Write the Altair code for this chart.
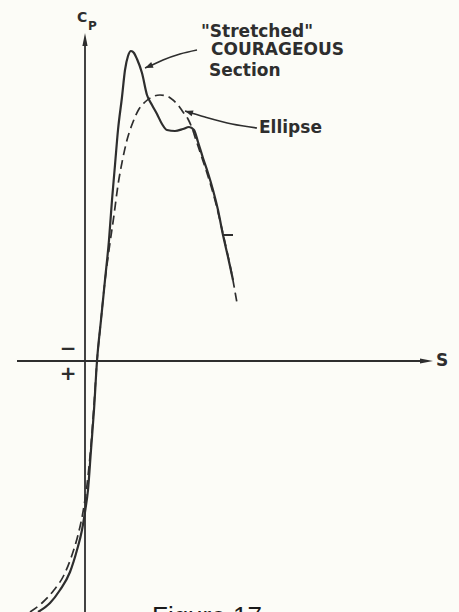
import altair as alt
import pandas as pd

INK = "#2e2e2e"
BG = "#fcfcf7"

# Pressure distribution along the surface: s = surface distance, cp = pressure coefficient
courageous_s = [-0.47, -0.35, -0.25, -0.15, -0.08, -0.03, 0.00, 0.03, 0.06, 0.09, 0.12,
                0.16, 0.20, 0.24, 0.27, 0.30, 0.33, 0.37, 0.40, 0.43, 0.46, 0.49, 0.52,
                0.57, 0.62, 0.67, 0.72, 0.77, 0.82, 0.90, 0.98, 1.04, 1.09, 1.13, 1.18,
                1.23, 1.28, 1.33, 1.38, 1.43, 1.48]
courageous_cp = [1.004, 0.968, 0.916, 0.844, 0.756, 0.676, 0.604, 0.516, 0.356, 0.196, 0.000,
                 -0.164, -0.324, -0.484, -0.644, -0.784, -0.924, -1.056, -1.164, -1.220, -1.240,
                 -1.232, -1.208, -1.152, -1.064, -1.024, -0.988, -0.948, -0.924, -0.920, -0.928,
                 -0.936, -0.924, -0.876, -0.812, -0.752, -0.684, -0.604, -0.504, -0.416, -0.324]

ellipse_s = [-0.55, -0.43, -0.31, -0.21, -0.13, -0.07, -0.02, 0.02, 0.06, 0.09, 0.12, 0.155,
             0.195, 0.24, 0.29, 0.33, 0.375, 0.42, 0.48, 0.54, 0.60, 0.67, 0.75, 0.82, 0.88,
             0.93, 0.98, 1.03, 1.07, 1.11, 1.16, 1.21, 1.26, 1.31, 1.36, 1.41, 1.46, 1.52]
ellipse_cp = [1.004, 0.968, 0.916, 0.856, 0.776, 0.696, 0.604, 0.496, 0.336, 0.176, 0.000,
              -0.144, -0.304, -0.444, -0.584, -0.704, -0.804, -0.884, -0.956, -1.008, -1.036,
              -1.056, -1.064, -1.060, -1.044, -1.024, -0.996, -0.968, -0.932, -0.884, -0.824,
              -0.764, -0.700, -0.628, -0.544, -0.456, -0.364, -0.232]

# Leader lines from the labels to the curves
leader_courageous_s = [1.12, 0.95, 0.78, 0.65, 0.60]
leader_courageous_cp = [-1.244, -1.228, -1.204, -1.180, -1.172]
leader_ellipse_s = [1.72, 1.47, 1.20, 1.00]
leader_ellipse_cp = [-0.932, -0.948, -0.976, -1.000]

# Axes: vertical Cp axis and horizontal s axis
axis_s = [0.00, -0.68]
axis_s2 = [0.00, 3.40]
axis_cp = [1.004, 0.0]
axis_cp2 = [-1.284, 0.0]

# Arrowheads: tip position and direction (degrees, clockwise from +s)
arrow_axis_s = [0.00, 3.48]
arrow_axis_cp = [-1.312, 0.0]
arrow_axis_ang = [270, 0]
arrow_lead_s = [0.60, 1.00]
arrow_lead_cp = [-1.172, -1.000]
arrow_lead_ang = [157, 198]

# Small tick on the solid curve
tick_s, tick_s2, tick_cp = [1.38], [1.48], [-0.504]

label_text = ['"Stretched"', "COURAGEOUS", "Section", "Ellipse", "S"]
label_s = [1.16, 1.26, 1.24, 1.74, 3.51]
label_cp = [-1.296, -1.224, -1.140, -0.912, 0.020]

sign_text = ["\u2212", "+"]
sign_s = [-0.17, -0.17]
sign_cp = [-0.048, 0.052]

X = alt.X("s:Q", scale=alt.Scale(domain=[-0.85, 3.74], nice=False, zero=False), axis=None)
Y = alt.Y("cp:Q", scale=alt.Scale(domain=[-1.444, 1.004], reverse=True, nice=False, zero=False),
          axis=None)


def curve(s, cp):
    return pd.DataFrame({"s": s, "cp": cp, "i": range(len(s))})


ARROW = "M0,0L-2,-0.4L-2,0.4Z"
ARROW_WIDE = "M0,0L-2,-0.75L-2,0.75Z"

axes = alt.Chart(pd.DataFrame({"s": axis_s, "s2": axis_s2, "cp": axis_cp, "cp2": axis_cp2})).mark_rule(
    color=INK, strokeWidth=1.8
).encode(x=X, y=Y, x2="s2:Q", y2="cp2:Q")

axis_arrows = alt.Chart(pd.DataFrame({"s": arrow_axis_s, "cp": arrow_axis_cp, "ang": arrow_axis_ang})).mark_point(
    shape=ARROW, filled=True, color=INK, opacity=1, size=169, strokeWidth=0
).encode(x=X, y=Y, angle=alt.Angle("ang:Q", scale=None))

solid = alt.Chart(curve(courageous_s, courageous_cp)).mark_line(
    color=INK, strokeWidth=2.2, interpolate="monotone"
).encode(x=X, y=Y, order="i:Q")

dashed = alt.Chart(curve(ellipse_s, ellipse_cp)).mark_line(
    color=INK, strokeWidth=1.7, strokeDash=[9, 5], interpolate="monotone"
).encode(x=X, y=Y, order="i:Q")

lead1 = alt.Chart(curve(leader_courageous_s, leader_courageous_cp)).mark_line(
    color=INK, strokeWidth=1.6, interpolate="monotone"
).encode(x=X, y=Y, order="i:Q")

lead2 = alt.Chart(curve(leader_ellipse_s, leader_ellipse_cp)).mark_line(
    color=INK, strokeWidth=1.6, interpolate="monotone"
).encode(x=X, y=Y, order="i:Q")

lead_arrows = alt.Chart(pd.DataFrame({"s": arrow_lead_s, "cp": arrow_lead_cp, "ang": arrow_lead_ang})).mark_point(
    shape=ARROW_WIDE, filled=True, color=INK, opacity=1, size=64, strokeWidth=0
).encode(x=X, y=Y, angle=alt.Angle("ang:Q", scale=None))

tick = alt.Chart(pd.DataFrame({"s": tick_s, "s2": tick_s2, "cp": tick_cp})).mark_rule(
    color=INK, strokeWidth=2
).encode(x=X, y=Y, x2="s2:Q")

labels = alt.Chart(pd.DataFrame({"s": label_s, "cp": label_cp, "t": label_text})).mark_text(
    align="left", baseline="alphabetic", font="DejaVu Sans", fontWeight="bold", fontSize=17, color=INK
).encode(x=X, y=Y, text="t:N")

signs = alt.Chart(pd.DataFrame({"s": sign_s, "cp": sign_cp, "t": sign_text})).mark_text(
    align="center", baseline="middle", font="DejaVu Sans", fontWeight="bold", fontSize=20, color=INK
).encode(x=X, y=Y, text="t:N")

cp_main = alt.Chart(pd.DataFrame({"s": [-0.08], "cp": [-1.356], "t": ["C"]})).mark_text(
    align="left", baseline="alphabetic", font="DejaVu Sans", fontWeight="bold", fontSize=14, color=INK
).encode(x=X, y=Y, text="t:N")

cp_sub = alt.Chart(pd.DataFrame({"s": [0.03], "cp": [-1.324], "t": ["P"]})).mark_text(
    align="left", baseline="alphabetic", font="DejaVu Sans", fontWeight="bold", fontSize=12, color=INK
).encode(x=X, y=Y, text="t:N")

caption = alt.Chart(pd.DataFrame({"s": [0.67], "cp": [1.056], "t": ["Figure 17"]})).mark_text(
    align="left", baseline="alphabetic", font="Liberation Sans", fontSize=26, color="#1a1a1a"
).encode(x=X, y=Y, text="t:N")

chart = alt.layer(
    axes, axis_arrows, dashed, solid, lead1, lead2, lead_arrows, tick,
    labels, signs, cp_main, cp_sub, caption
).properties(
    width=459, height=612, autosize=alt.AutoSizeParams(type="none"), padding=0, background=BG
).configure_view(stroke=None)

chart.save("out.html", embed_options={"renderer": "svg", "actions": False})
